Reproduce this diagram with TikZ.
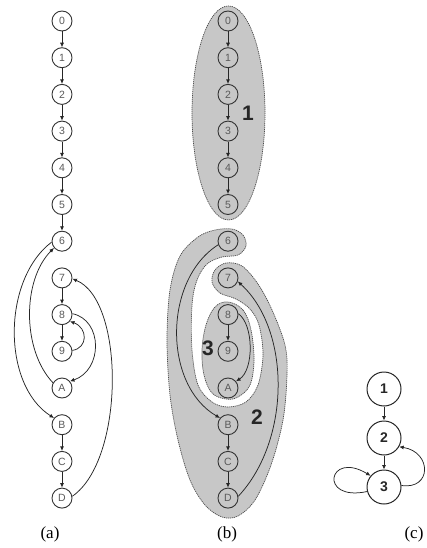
\documentclass[tikz,border=0pt]{standalone}
\usepackage{fontspec}
\setmainfont{Liberation Serif}
\setsansfont{Liberation Sans}
\usetikzlibrary{arrows.meta}
\begin{document}
\begin{tikzpicture}[x=1pt,y=-1pt,
  vtx/.style={circle,draw=black!80,line width=0.9pt,minimum size=20pt,inner sep=0pt,font=\sffamily\fontsize{10.5}{11}\selectfont,text=black!65},
  bigvtx/.style={circle,draw=black!85,line width=1pt,minimum size=34pt,inner sep=0pt,font=\sffamily\bfseries\fontsize{14}{14}\selectfont,text=black!85},
  arr/.style={-{Latex[length=4.5pt,width=4pt]},line width=0.75pt,draw=black!85},
  region/.style={fill=black!22,draw=black!70,line width=0.7pt,dash pattern=on 1.2pt off 0.8pt},
  rlabel/.style={font=\sffamily\bfseries\fontsize{21}{21}\selectfont,text=black!85},
  captxt/.style={font=\fontsize{17}{17}\selectfont}]
\useasboundingbox (0,0) rectangle (427,548);

% ---------- regions of (b)
\path[region] (228.5,113) ellipse [x radius=36.5, y radius=107];
\path[region] plot[smooth cycle,tension=0.55] coordinates {
 (232,229) (243,235) (246,246) (238,255) (222,257) (207,264) (197,280) (192,305)
 (192,350) (198,385) (212,402) (228,407) (246,402) (258,385) (263,355) (259,325)
 (250,309) (236,299) (220,293) (212,282) (215,270) (226,263) (242,266) (258,284)
 (272,310) (285,345) (287,375) (283,420) (271,465) (255,500) (238,516) (222,517)
 (205,505) (190,480) (178,440) (170,395) (167,340) (170,290) (180,256) (198,237)
 (215,230)};
\path[region] plot[smooth cycle,tension=0.6] coordinates {
 (228,302) (243,310) (251,330) (254,360) (250,385) (238,397) (226,399) (212,393)
 (204,375) (202,350) (206,325) (215,307)};

% ---------- nodes
\foreach \n/\i in {0/0,1/1,2/2,3/3,4/4,5/5,6/6,7/7,8/8,9/9,A/10,B/11,C/12,D/13}{
  \node[vtx] (a\n) at (62,{21+36.7*\i}) {\n};
  \node[vtx] (b\n) at (228,{21+36.7*\i}) {\n};
}

% ---------- (a) edges
\foreach \u/\v in {0/1,1/2,2/3,3/4,4/5,5/6,7/8,8/9,B/C,C/D}
  \draw[arr] (a\u) -- (a\v);
\draw[arr] (a6.185) .. controls (2,280) and (2,385) .. (aB.140);
\draw[arr] (aA.150) .. controls (22,350) and (22,280) .. (a6.220);
\draw[arr] (a8.5) .. controls (103,320) and (103,370) .. (aA.40);
\draw[arr] (a9.5) .. controls (88,348) and (88,328) .. (a8.320);
\draw[arr] (aD.10) .. controls (125,460) and (125,300) .. (a7.355);

% ---------- (b) edges
\foreach \u/\v in {0/1,1/2,2/3,3/4,4/5,8/9,B/C,C/D}
  \draw[arr] (b\u) -- (b\v);
\draw[arr] (b6.200) .. controls (163,280) and (163,385) .. (bB.140);
\draw[arr] (b8.5) .. controls (254,325) and (254,370) .. (bA.40);
\draw[arr] (bD.10) .. controls (291,440) and (291,330) .. (b7.340);

\node[rlabel] (l1) at (248,113) {1};
\node[rlabel] (l3) at (208,348) {3};
\node[rlabel] (l2) at (257,417) {2};

% ---------- (c)
\node[bigvtx] (c1) at (384,389) {1};
\node[bigvtx] (c2) at (384,438) {2};
\node[bigvtx] (c3) at (384,487) {3};
\draw[arr] (c1) -- (c2);
\draw[arr] (c2) -- (c3);
\draw[arr] (c3.5) .. controls (432,490) and (432,452) .. (c2.330);
\draw[arr] (c3.195) .. controls (318,502) and (328,450) .. (c3.140);

% ---------- captions
\node[captxt] (capa) at (50,534) {(a)};
\node[captxt] (capb) at (227,534) {(b)};
\node[captxt] (capc) at (414,534) {(c)};
\end{tikzpicture}
\end{document}
